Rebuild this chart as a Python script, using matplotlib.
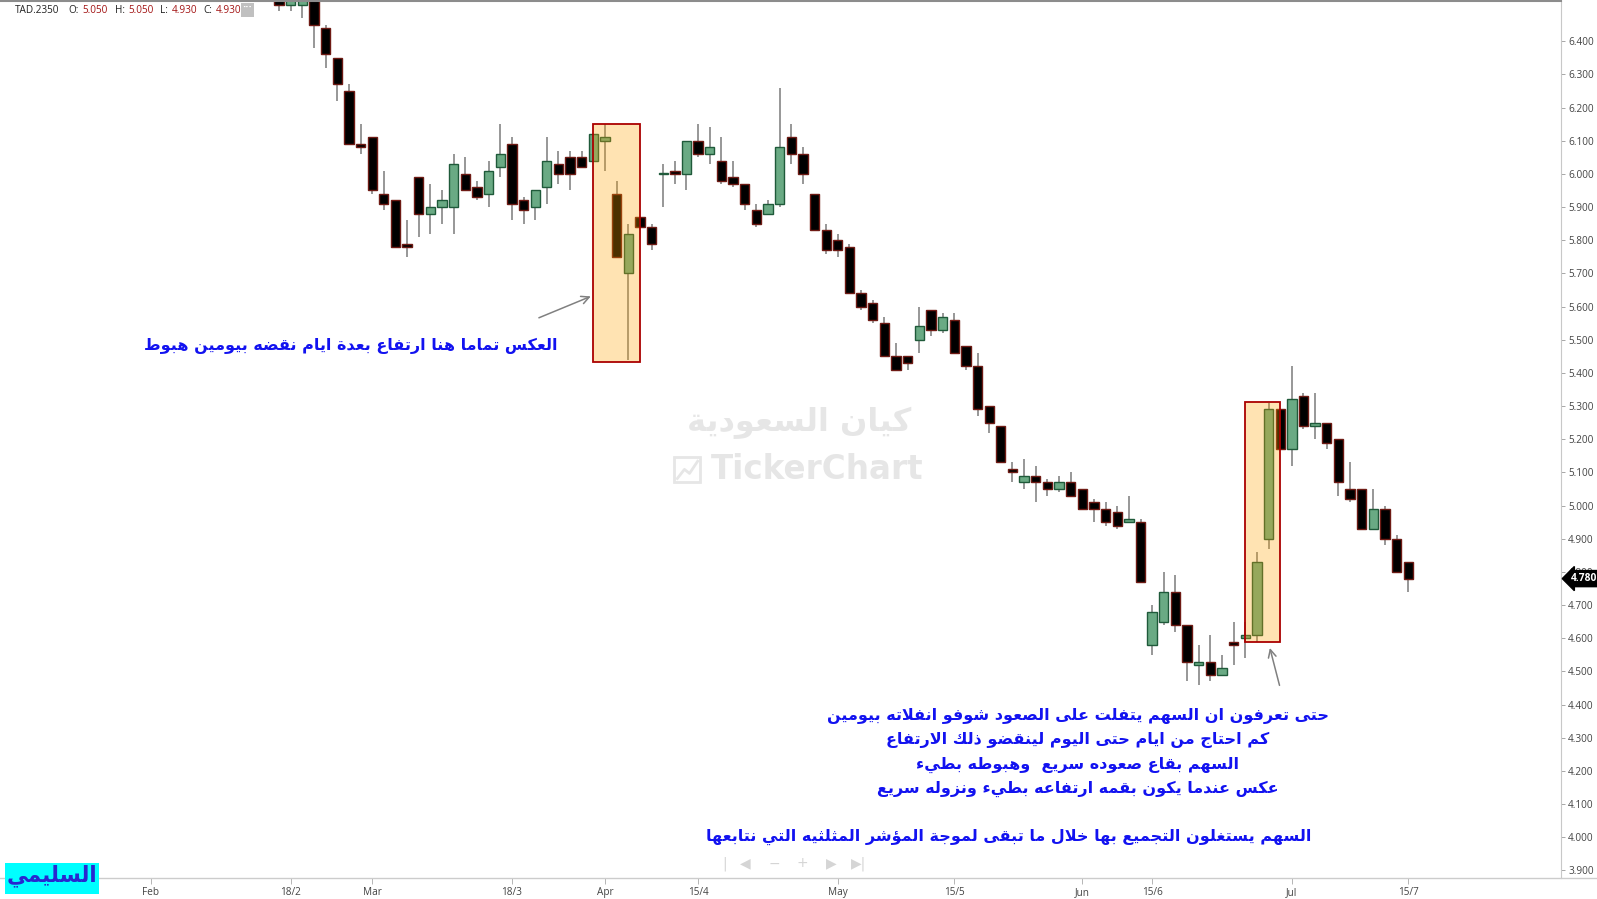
import matplotlib
matplotlib.use("Agg")
import matplotlib.pyplot as plt
from matplotlib.patches import Rectangle
from matplotlib.lines import Line2D
import numpy as np

# ---- data ----
opens = [6.56, 6.51, 6.51, 6.55, 6.44, 6.35, 6.25, 6.09, 6.11, 5.94,
         5.92, 5.79, 5.99, 5.88, 5.90, 5.90, 6.00, 5.96, 5.94, 6.02,
         6.09, 5.92, 5.90, 5.96, 6.03, 6.05, 6.05, 6.04, 6.10, 5.94,
         5.70, 5.87, 5.84, 6.00, 6.01, 6.00, 6.10, 6.06, 6.04, 5.99,
         5.97, 5.89, 5.88, 5.91, 6.11, 6.06, 5.94, 5.83, 5.80, 5.78,
         5.64, 5.61, 5.55, 5.45, 5.45, 5.50, 5.59, 5.53, 5.56, 5.48,
         5.42, 5.30, 5.24, 5.11, 5.07, 5.09, 5.07, 5.05, 5.07, 5.05,
         5.01, 4.99, 4.98, 4.95, 4.95, 4.58, 4.65, 4.74, 4.64, 4.52,
         4.53, 4.49, 4.59, 4.60, 4.61, 4.90, 5.29, 5.17, 5.33, 5.24,
         5.25, 5.20, 5.05, 5.05, 4.93, 4.99, 4.90, 4.83]
highs = [6.60, 6.58, 6.58, 6.58, 6.45, 6.35, 6.27, 6.15, 6.11, 6.01,
         5.92, 5.86, 5.99, 5.97, 5.95, 6.06, 6.05, 5.98, 6.04, 6.15,
         6.11, 5.93, 5.95, 6.11, 6.07, 6.07, 6.07, 6.12, 6.15, 5.98,
         5.85, 5.87, 5.85, 6.03, 6.04, 6.10, 6.15, 6.14, 6.11, 6.04,
         5.97, 5.91, 5.92, 6.26, 6.15, 6.08, 5.94, 5.85, 5.82, 5.79,
         5.65, 5.62, 5.57, 5.49, 5.45, 5.60, 5.59, 5.58, 5.58, 5.48,
         5.46, 5.30, 5.24, 5.13, 5.14, 5.12, 5.08, 5.09, 5.10, 5.05,
         5.02, 5.01, 5.00, 5.03, 4.96, 4.70, 4.80, 4.79, 4.64, 4.58,
         4.61, 4.55, 4.65, 4.65, 4.86, 5.31, 5.29, 5.42, 5.34, 5.34,
         5.25, 5.20, 5.13, 5.05, 5.05, 5.00, 4.91, 4.83]
lows = [6.49, 6.49, 6.47, 6.38, 6.32, 6.22, 6.09, 6.06, 5.94, 5.89,
        5.78, 5.75, 5.81, 5.82, 5.85, 5.82, 5.95, 5.92, 5.90, 5.99,
        5.86, 5.85, 5.86, 5.91, 5.97, 5.95, 6.02, 6.04, 6.01, 5.75,
        5.44, 5.84, 5.77, 5.90, 5.97, 5.95, 6.05, 6.03, 5.97, 5.96,
        5.89, 5.84, 5.88, 5.90, 6.03, 5.97, 5.83, 5.76, 5.75, 5.64,
        5.59, 5.55, 5.45, 5.41, 5.41, 5.46, 5.51, 5.52, 5.46, 5.41,
        5.27, 5.22, 5.13, 5.07, 5.05, 5.01, 5.03, 5.04, 5.03, 4.99,
        4.95, 4.94, 4.93, 4.95, 4.77, 4.55, 4.64, 4.62, 4.47, 4.46,
        4.47, 4.49, 4.52, 4.54, 4.59, 4.87, 5.17, 5.12, 5.23, 5.20,
        5.17, 5.03, 5.01, 4.93, 4.93, 4.88, 4.80, 4.74]
closes = [6.51, 6.55, 6.55, 6.45, 6.36, 6.27, 6.09, 6.08, 5.95, 5.91,
          5.78, 5.78, 5.88, 5.90, 5.92, 6.03, 5.95, 5.93, 6.01, 6.06,
          5.91, 5.89, 5.95, 6.04, 6.00, 6.00, 6.02, 6.12, 6.11, 5.75,
          5.82, 5.84, 5.79, 6.00, 6.00, 6.10, 6.06, 6.08, 5.98, 5.97,
          5.91, 5.85, 5.91, 6.08, 6.06, 6.00, 5.83, 5.77, 5.77, 5.64,
          5.60, 5.56, 5.45, 5.41, 5.43, 5.54, 5.53, 5.57, 5.46, 5.42,
          5.29, 5.25, 5.13, 5.10, 5.09, 5.07, 5.05, 5.07, 5.03, 4.99,
          4.99, 4.95, 4.94, 4.96, 4.77, 4.68, 4.74, 4.64, 4.53, 4.53,
          4.49, 4.51, 4.58, 4.61, 4.83, 5.29, 5.17, 5.32, 5.24, 5.25,
          5.19, 5.07, 5.02, 4.93, 4.99, 4.90, 4.80, 4.78]

date_ticks = [-11, 1, 8, 20, 28, 36, 48, 58, 69, 75, 87, 97]
date_labels = ['Feb', '18/2', 'Mar', '18/3', 'Apr', '15/4', 'May', '15/5',
               'Jun', '15/6', 'Jul', '15/7']
price_ticks = [round(3.9 + 0.1 * i, 1) for i in range(26)]

symbol = 'TAD.2350'
header_names = ['O:', 'H:', 'L:', 'C:']
header_values = ['5.050', '5.050', '4.930', '4.930']
last_price = 4.78

note1 = 'العكس تماما هنا ارتفاع بعدة ايام نقضه بيومين هبوط'
note2 = ['حتى تعرفون ان السهم يتفلت على الصعود شوفو انفلاته بيومين',
         'كم احتاج من ايام حتى اليوم لينقضو ذلك الارتفاع',
         'السهم بقاع صعوده سريع  وهبوطه بطيء',
         'عكس عندما يكون بقمه ارتفاعه بطيء ونزوله سريع']
note3 = 'السهم يستغلون التجميع بها خلال ما تبقى لموجة المؤشر المثلثيه التي نتابعها'
author = 'السليمي'
wm_ar = 'كيان السعودية'


# ---- tiny arabic shaper (matplotlib has no bidi / joining) ----
dual = {'ئ': 0xFE89, 'ب': 0xFE8F, 'ت': 0xFE95, 'ث': 0xFE99, 'ج': 0xFE9D,
        'ح': 0xFEA1, 'خ': 0xFEA5, 'س': 0xFEB1, 'ش': 0xFEB5, 'ص': 0xFEB9,
        'ض': 0xFEBD, 'ط': 0xFEC1, 'ظ': 0xFEC5, 'ع': 0xFEC9, 'غ': 0xFECD,
        'ف': 0xFED1, 'ق': 0xFED5, 'ك': 0xFED9, 'ل': 0xFEDD, 'م': 0xFEE1,
        'ن': 0xFEE5, 'ه': 0xFEE9, 'ي': 0xFEF1}
right = {'آ': 0xFE81, 'أ': 0xFE83, 'ؤ': 0xFE85, 'إ': 0xFE87, 'ا': 0xFE8D,
         'ة': 0xFE93, 'د': 0xFEA9, 'ذ': 0xFEAB, 'ر': 0xFEAD, 'ز': 0xFEAF,
         'و': 0xFEED, 'ى': 0xFEEF}
lamalef = {'ا': 0xFEFB, 'أ': 0xFEF7, 'إ': 0xFEF9, 'آ': 0xFEF5}


def shape(s):
    res = []
    i = 0
    n = len(s)
    while i < n:
        c = s[i]
        prev = s[i - 1] if i > 0 else ''
        p = prev in dual
        if c == 'ل' and i + 1 < n and s[i + 1] in lamalef:
            res.append(chr(lamalef[s[i + 1]] + (1 if p else 0)))
            i += 2
            continue
        nxt = s[i + 1] if i + 1 < n else ''
        if c in dual:
            q = nxt in dual or nxt in right
            res.append(chr(dual[c] + (3 if p and q else 1 if p else 2 if q else 0)))
        elif c in right:
            res.append(chr(right[c] + (1 if p else 0)))
        else:
            res.append(c)
        i += 1
    return ''.join(res[::-1])


W, H = 1568, 883  # reference layout measured in this size


def fx(x):
    return x / W


def fy(y):
    return 1 - y / H


fig = plt.figure(figsize=(15.97, 8.99), dpi=100)
ax = fig.add_axes([0, fy(862), fx(1533), fy(0.5) - fy(862)])

x = np.arange(len(opens))
o = np.array(opens)
c = np.array(closes)
up = c >= o
body_lo = np.minimum(o, c)
body_h = np.maximum(np.abs(c - o), 0.004)

ax.vlines(x, lows, highs, color='#7a7a7a', linewidth=1.1, zorder=1)
ax.bar(x[up], body_h[up], bottom=body_lo[up], width=0.8,
       color='#6aaa84', edgecolor='#1f5a3a', linewidth=1.0, zorder=2)
ax.bar(x[~up], body_h[~up], bottom=body_lo[~up], width=0.8,
       color='black', edgecolor='#6e1a14', linewidth=1.0, zorder=2)

# highlight boxes
for (x0, x1, y0, y1) in [(27.0, 31.03, 5.432, 6.151), (83.0, 86.0, 4.588, 5.311)]:
    ax.add_patch(Rectangle((x0, y0), x1 - x0, y1 - y0, facecolor=(1, 0.647, 0, 0.3),
                           edgecolor='#aa0000', linewidth=1.3, zorder=3))

ax.annotate('', xy=(27.0, 5.634), xytext=(22.1, 5.563),
            arrowprops=dict(arrowstyle='->', color='#808080', lw=1.1, mutation_scale=14))
ax.annotate('', xy=(85.05, 4.579), xytext=(86.0, 4.45),
            arrowprops=dict(arrowstyle='->', color='#808080', lw=1.1, mutation_scale=14))

ax.set_xlim(-23.97, 110.15)
ax.set_ylim(6.4 - (862 - 40) / 326.0, 6.4 + 40 / 326.0)

ax.yaxis.tick_right()
ax.set_yticks(price_ticks)
ax.set_yticklabels(['%.3f' % v for v in price_ticks])
ax.set_xticks(date_ticks)
ax.set_xticklabels(date_labels)
ax.tick_params(axis='y', length=3, width=0.6, color='#999999', labelsize=7.2,
               labelcolor='#444444', pad=2)
ax.tick_params(axis='x', length=4, width=0.6, color='#aaaaaa', labelsize=7.2,
               labelcolor='#444444', pad=3)
for t in ax.get_xticklabels() + ax.get_yticklabels():
    t.set_fontfamily('Open Sans')

ax.spines['left'].set_visible(False)
ax.spines['bottom'].set_visible(False)
ax.spines['top'].set_color('#8c8c8c')
ax.spines['top'].set_linewidth(1.5)
ax.spines['right'].set_color('#c8c8c8')
fig.add_artist(Line2D([0, 1], [fy(862), fy(862)], color='#cccccc', lw=1.0))

# last price tag
ax.annotate('%.3f' % last_price, xy=(1.0, last_price), xycoords=('axes fraction', 'data'),
            xytext=(7, 0), textcoords='offset points', ha='left', va='center',
            color='white', fontsize=7.4, fontweight='bold', family='Open Sans',
            bbox=dict(boxstyle='larrow,pad=0.25', fc='black', ec='black'), zorder=10,
            annotation_clip=False)

# header line
hx = [67, 113, 157, 200]
vx = [81, 126, 169, 212]
fig.text(fx(15), fy(10), symbol, fontsize=7.2, color='#222222', va='center', family='Open Sans')
for name, val, a, b in zip(header_names, header_values, hx, vx):
    fig.text(fx(a), fy(10), name, fontsize=7.2, color='#222222', va='center', family='Open Sans')
    fig.text(fx(b), fy(10), val, fontsize=7.2, color='#a31515', va='center', family='Open Sans')
fig.add_artist(Rectangle((fx(237), fy(17)), fx(12), fy(3) - fy(17), facecolor='#c0c0c0',
                         edgecolor='none', transform=fig.transFigure))
fig.text(fx(243), fy(8), '···', fontsize=6, color='white', ha='center', va='center',
         fontweight='bold')

# watermark
fig.text(fx(785), fy(415), shape(wm_ar), fontsize=23, color='#e6e6e6', ha='center',
         va='center', fontweight='bold', family='DejaVu Sans')
fig.text(fx(802), fy(461), 'TickerChart', fontsize=23.5, color='#e6e6e6', ha='center',
         va='center', fontweight='bold', family='DejaVu Sans')
fig.add_artist(Rectangle((fx(662), fy(473)), fx(25), fy(449) - fy(473), facecolor='none',
                         edgecolor='#e6e6e6', lw=2, transform=fig.transFigure))
fig.add_artist(Line2D([fx(665), fx(672), fx(677), fx(685)], [fy(470), fy(461), fy(465), fy(453)],
                      color='#e6e6e6', lw=2))

# notes
blue = '#1212f0'
fs = 11.5
fig.text(fx(344), fy(340), shape(note1), fontsize=fs, color=blue, ha='center', va='center',
         fontweight='bold', family='DejaVu Sans')
for k, line in enumerate(note2):
    fig.text(fx(1058), fy(703 + 24 * k), shape(line), fontsize=fs, color=blue, ha='center',
             va='center', fontweight='bold', family='DejaVu Sans')
fig.text(fx(990), fy(822), shape(note3), fontsize=fs, color=blue, ha='center', va='center',
         fontweight='bold', family='DejaVu Sans')

# author stamp
fig.add_artist(Rectangle((fx(5), fy(878)), fx(92), fy(848) - fy(878), facecolor='#00ffff',
                         edgecolor='none', transform=fig.transFigure, zorder=5))
fig.text(fx(51), fy(860), shape(author), fontsize=15.5, color='#2828d0', ha='center',
         va='center', fontweight='bold', family='DejaVu Sans', zorder=6)

# navigation icons
for px, sym in zip([711, 732, 760, 788, 816, 843], ['|', '◀', '−', '+', '▶', '▶|']):
    fig.text(fx(px), fy(848), sym, fontsize=10, color='#d5d5d5', ha='center', va='center',
             family='DejaVu Sans')

fig.savefig('out.png', dpi=100, facecolor='white')
